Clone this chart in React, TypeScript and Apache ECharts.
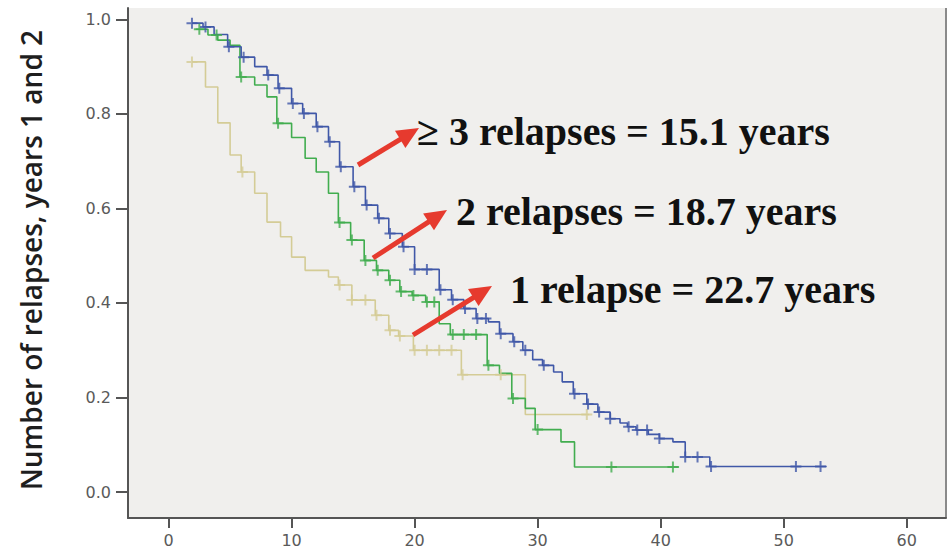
import React, { useEffect, useRef } from "react";
import * as echarts from "echarts";

// ---------- data ----------
const xTicks = [0, 10, 20, 30, 40, 50, 60];
const yTicks = [0, 0.2, 0.4, 0.6, 0.8, 1.0];

// >= 3 relapses (blue)
const blueTimes = [1.9, 2.8, 3.7, 4.8, 5.9, 7.0, 8.0, 8.9, 10.0, 10.9, 12.0, 13.0, 13.9, 15.0, 16.0, 17.0, 17.9, 19.0, 20.0, 22.0, 23.0, 24.0, 25.0, 26.0, 26.9, 28.0, 28.8, 29.6, 30.4, 31.3, 32.0, 32.9, 34.0, 34.9, 35.9, 36.7, 37.3, 38.0, 39.0, 39.9, 41.0, 42.0, 44.0];
const blueSurv = [0.992, 0.984, 0.968, 0.942, 0.920, 0.900, 0.882, 0.854, 0.822, 0.801, 0.773, 0.741, 0.688, 0.646, 0.607, 0.579, 0.547, 0.519, 0.471, 0.428, 0.407, 0.388, 0.367, 0.360, 0.335, 0.318, 0.300, 0.280, 0.268, 0.254, 0.233, 0.208, 0.186, 0.169, 0.155, 0.146, 0.138, 0.131, 0.122, 0.113, 0.106, 0.074, 0.054];
const blueEnd = 53.5;
const blueCensor = [1.9, 3.0, 4.9, 6.1, 8.1, 9.0, 10.1, 11.0, 12.1, 13.1, 14.0, 15.1, 16.1, 17.1, 18.0, 19.1, 20.0, 21.0, 22.1, 23.1, 24.1, 25.1, 25.8, 27.0, 28.1, 29.0, 30.5, 33.0, 34.1, 35.0, 35.9, 37.4, 38.1, 38.9, 39.9, 42.0, 43.0, 44.1, 51.0, 53.0];

// 2 relapses (green)
const greenTimes = [2.2, 3.2, 4.0, 5.0, 5.8, 7.0, 8.0, 8.8, 10.0, 11.1, 12.0, 13.0, 13.8, 14.8, 15.9, 16.9, 17.9, 18.8, 19.8, 20.9, 22.0, 22.9, 25.9, 26.9, 27.9, 29.0, 29.8, 31.9, 33.0];
const greenSurv = [0.979, 0.967, 0.956, 0.945, 0.878, 0.861, 0.836, 0.780, 0.750, 0.706, 0.677, 0.632, 0.570, 0.533, 0.490, 0.469, 0.448, 0.424, 0.416, 0.402, 0.356, 0.333, 0.268, 0.251, 0.198, 0.177, 0.132, 0.106, 0.053];
const greenEnd = 41.5;
const greenCensor = [2.5, 3.9, 5.9, 8.9, 13.9, 14.9, 16.0, 17.0, 18.0, 18.9, 19.9, 21.0, 21.6, 23.1, 24.0, 25.0, 26.0, 28.0, 30.0, 36.0, 41.0];

// 1 relapse (tan)
const tanTimes = [1.9, 3.0, 4.0, 5.0, 5.9, 7.0, 8.0, 9.1, 10.0, 11.1, 13.0, 13.8, 14.9, 16.8, 17.9, 18.7, 19.9, 23.8, 29.0];
const tanSurv = [0.910, 0.857, 0.781, 0.713, 0.677, 0.632, 0.571, 0.540, 0.497, 0.469, 0.455, 0.438, 0.406, 0.374, 0.342, 0.330, 0.300, 0.248, 0.164];
const tanEnd = 34.2;
const tanCensor = [1.9, 6.0, 13.9, 14.9, 16.0, 16.9, 18.0, 18.8, 20.0, 21.0, 22.0, 23.0, 23.9, 27.0, 34.0];

const yTitle = "Number of relapses, years 1 and 2";
const annotations = ["\u2265 3 relapses = 15.1 years", "2 relapses = 18.7 years", "1 relapse = 22.7 years"];

// ---------- styling / layout ----------
const COLORS = { blue: "#4058a8", green: "#41ad4f", tan: "#d4cc96" };
const ARROW_COLOR = "#e63a2e";
const annotationPos = [
  { x: 417, y: 131 },
  { x: 456, y: 211 },
  { x: 510, y: 289 },
];
const arrowPos = [
  { tail: [358, 165], tip: [419, 128] },
  { tail: [373, 258], tip: [447, 210] },
  { tail: [413, 335], tip: [492, 286] },
];

const PLUS = "path://M4.5,0h2v11h-2zM0,4.5h11v2h-11z";

function stepData(times: number[], surv: number[], end: number) {
  const d = times.map((t, i) => [t, surv[i]]);
  d.push([end, surv[surv.length - 1]]);
  return d;
}
function levelAt(times: number[], surv: number[], x: number) {
  let v = surv[0];
  for (let i = 0; i < times.length; i++) if (times[i] <= x + 1e-9) v = surv[i];
  return v;
}
function censorData(times: number[], surv: number[], cens: number[]) {
  return cens.map((c) => [c, levelAt(times, surv, c)]);
}

function arrow(tail: number[], tip: number[]) {
  const dx = tip[0] - tail[0];
  const dy = tip[1] - tail[1];
  const len = Math.sqrt(dx * dx + dy * dy);
  const ux = dx / len, uy = dy / len;
  const hl = 22, hw = 10;
  const bx = tip[0] - ux * hl, by = tip[1] - uy * hl;
  const px = -uy, py = ux;
  return [
    {
      type: "line",
      shape: { x1: tail[0], y1: tail[1], x2: bx + ux * 2, y2: by + uy * 2 },
      style: { stroke: ARROW_COLOR, lineWidth: 5, lineCap: "butt" },
      z: 100,
    },
    {
      type: "polygon",
      shape: { points: [tip, [bx + px * hw, by + py * hw], [bx - px * hw, by - py * hw]] },
      style: { fill: ARROW_COLOR },
      z: 100,
    },
  ];
}

export default function App() {
  const ref = useRef<HTMLDivElement>(null);
  useEffect(() => {
    if (!ref.current) return;
    const chart = echarts.init(ref.current, undefined, { renderer: "svg" });
    const lineSeries = (name: string, data: any, color: string) => ({
      name,
      type: "line",
      step: "end",
      data,
      showSymbol: false,
      symbol: "none",
      lineStyle: { color, width: 1.6 },
      z: 3,
    });
    const censorSeries = (name: string, data: any, color: string) => ({
      name,
      type: "scatter",
      data,
      symbol: PLUS,
      symbolSize: 11,
      itemStyle: { color },
      z: 4,
    });
    const graphics: any[] = [];
    graphics.push({
      type: "line",
      shape: { x1: 946, y1: 8, x2: 946, y2: 518 },
      style: { stroke: "#8a8a8a", lineWidth: 2 },
    });
    graphics.push({
      type: "text",
      x: 31,
      y: 260,
      rotation: Math.PI / 2,
      style: {
        text: yTitle,
        fontFamily: "Open Sans",
        fontWeight: 600,
        fontSize: 28,
        fill: "#1e1e1e",
        textAlign: "center",
        textVerticalAlign: "middle",
      },
    });
    annotations.forEach((t, i) => {
      graphics.push({
        type: "text",
        x: annotationPos[i].x,
        y: annotationPos[i].y,
        z: 100,
        style: {
          text: t,
          fontFamily: "Liberation Serif",
          fontWeight: "bold",
          fontSize: 40,
          fill: "#111",
          textAlign: "left",
          textVerticalAlign: "middle",
        },
      });
    });
    arrowPos.forEach((a) => graphics.push(...arrow(a.tail, a.tip)));

    chart.setOption({
      animation: false,
      backgroundColor: "#ffffff",
      grid: {
        left: 128,
        right: 2,
        top: 8,
        bottom: 31,
        show: true,
        backgroundColor: "#f0efed",
        borderWidth: 0,
      },
      xAxis: {
        type: "value",
        min: -3.3,
        max: 63.2,
        splitLine: { show: false },
        axisLine: { show: true, onZero: false, lineStyle: { color: "#555", width: 2 } },
        axisTick: { show: true, customValues: xTicks, length: 10, lineStyle: { color: "#555", width: 2 } },
        axisLabel: {
          customValues: xTicks,
          color: "#5a5a5a",
          fontSize: 16,
          fontFamily: "DejaVu Sans",
          margin: 14,
        },
      },
      yAxis: {
        type: "value",
        min: -0.055,
        max: 1.024,
        splitLine: { show: false },
        axisLine: { show: true, onZero: false, lineStyle: { color: "#555", width: 2 } },
        axisTick: { show: true, customValues: yTicks, length: 12, lineStyle: { color: "#555", width: 2 } },
        axisLabel: {
          customValues: yTicks,
          formatter: (v: number) => v.toFixed(1),
          color: "#5a5a5a",
          fontSize: 16,
          fontFamily: "DejaVu Sans",
          margin: 17,
        },
      },
      series: [
        lineSeries("1 relapse", stepData(tanTimes, tanSurv, tanEnd), COLORS.tan),
        lineSeries("2 relapses", stepData(greenTimes, greenSurv, greenEnd), COLORS.green),
        lineSeries(">=3 relapses", stepData(blueTimes, blueSurv, blueEnd), COLORS.blue),
        censorSeries("1 relapse censored", censorData(tanTimes, tanSurv, tanCensor), COLORS.tan),
        censorSeries("2 relapses censored", censorData(greenTimes, greenSurv, greenCensor), COLORS.green),
        censorSeries(">=3 relapses censored", censorData(blueTimes, blueSurv, blueCensor), COLORS.blue),
      ],
      graphic: graphics,
    });
    return () => chart.dispose();
  }, []);
  return (
    <div
      ref={ref}
      style={{ position: "fixed", left: 0, top: 0, width: 948, height: 549 }}
    />
  );
}
